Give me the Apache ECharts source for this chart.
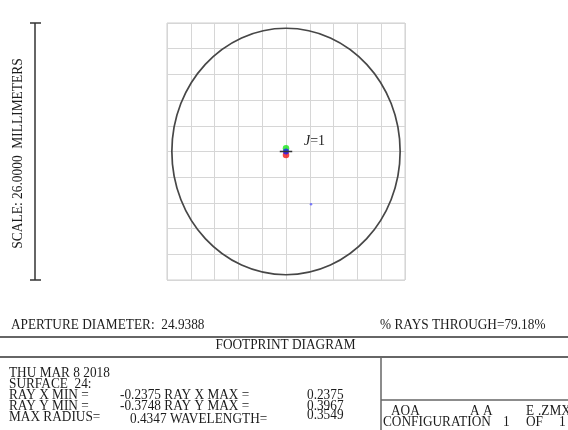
<!DOCTYPE html>
<html>
<head>
<meta charset="utf-8">
<script src="https://cdn.jsdelivr.net/npm/echarts@6/dist/echarts.min.js"></script>
<style>
  html, body { margin: 0; padding: 0; background: #fff; }
  #view { width: 568px; height: 430px; }
</style>
</head>
<body>
<div id="view"></div>
<script>
// footprint values (mm)
var scaleMM = 26;
var gridStep = 2.6;
var apertureDiameter = 24.9388;
var raysThrough = '79.18%';
var greenRays = [[0, 0.32]];
var redRays = [[0, -0.35]];
var blueRays = [[0, 0]];
var strayRays = [[2.73, -5.34]];
var chiefMark = [[-0.68, 0], [0.68, 0]];
var fieldLabel = ['J', '=1'];

var infoLines = ['THU MAR 8 2018', 'SURFACE  24:', 'RAY X MIN =', 'RAY Y MIN =', 'MAX RADIUS='];
var midLines = ['-0.2375 RAY X MAX =', '-0.3748 RAY Y MAX =', '0.4347 WAVELENGTH='];
var rightValues = ['0.2375', '0.3967', '0.3549'];
var fileLine = ['AOA', 'A A', 'E', '.ZMX'];
var configLine = ['CONFIGURATION', '1', 'OF', '1'];

var myChart = echarts.init(document.getElementById('view'));
var font = '13.3px "Liberation Serif", "DejaVu Serif", serif';
var ink = '#1c1c1c';
var rule = '#666';
var stretch = 1.08; // picture is a bit taller than wide

function txt(str, x, y, align, extra) {
    var o = {
        type: 'text', silent: true, x: x, y: y, scaleY: stretch,
        style: { text: str, font: font, fill: ink, align: align || 'left', verticalAlign: 'middle' }
    };
    if (extra) for (var k in extra) o[k] = extra[k];
    return o;
}
function seg(x1, y1, x2, y2, color, w) {
    return { type: 'line', silent: true, shape: { x1: x1, y1: y1, x2: x2, y2: y2 },
        style: { stroke: color, lineWidth: w } };
}

var graphics = [
    // scale bar
    seg(35, 23, 35, 280, '#333', 1.5),
    seg(30, 23, 41, 23, '#333', 1.5),
    seg(30, 280, 41, 280, '#333', 1.5),
    txt('SCALE: ' + scaleMM.toFixed(4) + '  MILLIMETERS', 18, 153.5, 'center',
        { rotation: Math.PI / 2, scaleY: 1.05, scaleX: 1.01 }),
    // field label
    { type: 'text', silent: true, x: 304, y: 141.5, scaleY: stretch,
      style: { text: '{j|' + fieldLabel[0] + '}' + fieldLabel[1], font: '14px "Liberation Serif", serif',
               fill: ink, verticalAlign: 'middle',
               rich: { j: { font: 'italic 14px "Liberation Serif", serif', fill: ink } } } },
    // header
    txt('APERTURE DIAMETER:  ' + apertureDiameter.toFixed(4), 11, 325),
    txt('% RAYS THROUGH=' + raysThrough, 380, 325),
    seg(0, 337, 568, 337, rule, 2),
    txt('FOOTPRINT DIAGRAM', 285.5, 345.5, 'center'),
    seg(0, 357, 568, 357, rule, 2),
    seg(381, 357, 381, 430, rule, 1.5),
    seg(381, 400, 568, 400, rule, 1.5)
];

infoLines.forEach(function (s, i) { graphics.push(txt(s, 9, 373.5 + i * 11)); });
midLines.forEach(function (s, i) {
    graphics.push(txt(s, i === 2 ? 130 : 120, 395.5 + i * 11 + (i === 2 ? 1.5 : 0)));
});
rightValues.forEach(function (s, i) {
    graphics.push(txt(s, 307, 395.5 + i * 11 - (i === 2 ? 2.5 : 0)));
});
var fileX = [391, 470, 526, 538];
fileLine.forEach(function (s, i) { graphics.push(txt(s, fileX[i], 411)); });
var confX = [383, 503, 526, 559];
configLine.forEach(function (s, i) { graphics.push(txt(s, confX[i], 422)); });

var axisCommon = {
    type: 'value',
    min: -scaleMM / 2,
    max: scaleMM / 2,
    interval: gridStep,
    axisLine: { show: false },
    axisTick: { show: false },
    axisLabel: { show: false },
    splitLine: { show: true, lineStyle: { color: '#d6d6d6', width: 1 } }
};

option = {
    backgroundColor: '#fff',
    animation: false,
    grid: { left: 167, top: 23, width: 238, height: 257, show: true, borderColor: '#cfcfcf', borderWidth: 1 },
    xAxis: axisCommon,
    yAxis: axisCommon,
    graphic: graphics,
    series: [
        {
            type: 'custom',
            silent: true,
            clip: false,
            data: [[0, 0]],
            renderItem: function (params, api) {
                var c = api.coord([0, 0]);
                var s = api.size([apertureDiameter / 2, apertureDiameter / 2]);
                return {
                    type: 'ellipse',
                    shape: { cx: c[0], cy: c[1], rx: s[0], ry: s[1] },
                    style: { fill: 'none', stroke: '#474747', lineWidth: 1.7 }
                };
            }
        },
        {
            type: 'line', data: chiefMark, symbol: 'none', silent: true,
            lineStyle: { color: '#333', width: 1.5 }
        },
        { type: 'scatter', data: greenRays, symbolSize: 6.5, itemStyle: { color: '#19e619' }, silent: true },
        { type: 'scatter', data: redRays, symbolSize: 6.5, itemStyle: { color: '#f01818' }, silent: true },
        { type: 'scatter', data: blueRays, symbolSize: 6, itemStyle: { color: '#1a1aff' }, silent: true },
        { type: 'scatter', data: strayRays, symbolSize: 2.5, itemStyle: { color: '#5a5aff' }, silent: true }
    ]
};

myChart.setOption(option);
</script>
</body>
</html>
